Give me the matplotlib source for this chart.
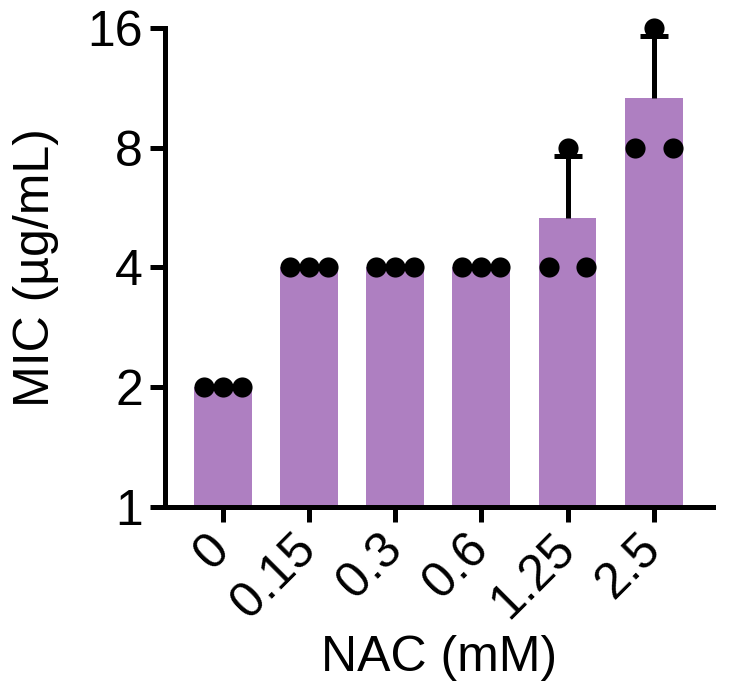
import numpy as np
import matplotlib.pyplot as plt

plt.rcParams['font.family'] = ['Liberation Sans', 'DejaVu Sans']

doses = ['0', '0.15', '0.3', '0.6', '1.25', '2.5']
mic_rep1 = [2, 4, 4, 4, 4, 8]
mic_rep2 = [2, 4, 4, 4, 8, 16]
mic_rep3 = [2, 4, 4, 4, 4, 8]

reps = np.array([mic_rep1, mic_rep2, mic_rep3])
means = reps.mean(axis=0)
sds = reps.std(axis=0, ddof=1)
x = np.arange(len(doses))

bar_color = '#AE7FC1'
lw = 3.6

fig = plt.figure(figsize=(7.30, 6.98), dpi=100)
ax = fig.add_axes([0.226, 0.2736, 0.751, 0.6864])

ax.bar(x, means, width=0.67, color=bar_color, zorder=1)

# upward-only SD bars
has_err = sds > 0
ax.vlines(x[has_err], means[has_err], (means + sds)[has_err],
          color='black', linewidth=lw, zorder=2)
ax.plot(x[has_err], (means + sds)[has_err], linestyle='none', marker='_',
        markersize=20, markeredgewidth=lw, color='black', zorder=2)

offsets = [-0.22, 0, 0.22]
for i, off in enumerate(offsets):
    ax.plot(x + off, reps[i], 'o', color='black', markersize=14.5,
            markeredgewidth=0, zorder=3, clip_on=False)

ax.set_yscale('log', base=2)
ax.set_ylim(1, 16)
ax.set_yticks([1, 2, 4, 8, 16])
ax.set_yticklabels(['1', '2', '4', '8', '16'])
ax.minorticks_off()
ax.set_xlim(-0.67, 5.69)
ax.set_xticks(x)
ax.set_xticklabels(doses, rotation=45, ha='right', va='center',
                   rotation_mode='anchor')

for s in ['top', 'right']:
    ax.spines[s].set_visible(False)
for s in ['left', 'bottom']:
    ax.spines[s].set_linewidth(lw)
ax.tick_params(axis='both', width=lw, length=11, labelsize=36)
ax.tick_params(axis='y', pad=5)
ax.tick_params(axis='x', pad=14)

ax.set_ylabel('MIC (µg/mL)', fontsize=36, labelpad=20)
ax.set_xlabel('NAC (mM)', fontsize=36, labelpad=6)

fig.savefig('out.png', dpi=100)
